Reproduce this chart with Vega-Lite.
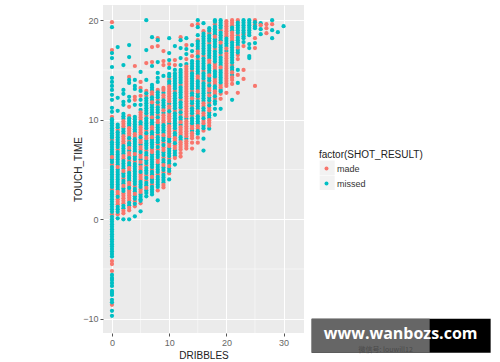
{"$schema":"https://vega.github.io/schema/vega-lite/v6.json","width":201,"height":328,"autosize":{"type":"none"},"padding":{"left":103,"top":5,"right":196,"bottom":29},"background":"white","view":{"fill":"#EBEBEB","stroke":null},"config":{"font":"Liberation Sans"},
"encoding":{"x":{"field":"x","type":"quantitative","title":"DRIBBLES","scale":{"domain":[-1.57,33.57],"nice":false,"zero":false},"axis":{"values":[0,10,20,30],"format":"d","grid":true,"gridColor":"white","gridWidth":1,"domain":false,"tickColor":"#555555","tickSize":3,"labelColor":"#666666","labelFontSize":9,"labelPadding":2,"titleColor":"#222222","titleFontSize":10,"titleFontWeight":"normal","titlePadding":3}},"y":{"field":"y","type":"quantitative","title":"TOUCH_TIME","scale":{"domain":[-11.43,21.53],"nice":false,"zero":false},"axis":{"values":[-10,0,10,20],"format":"d","grid":true,"gridColor":"white","gridWidth":1,"domain":false,"tickColor":"#555555","tickSize":3,"labelColor":"#666666","labelFontSize":9,"labelPadding":2,"titleColor":"#222222","titleFontSize":10,"titleFontWeight":"normal","titlePadding":-1}}},
"layer":[
{"data":{"values":[{"x":5},{"x":15},{"x":25}]},"mark":{"type":"rule","color":"white","strokeWidth":0.5},"encoding":{"y":null}},
{"data":{"values":[{"y":-5},{"y":5},{"y":15}]},"mark":{"type":"rule","color":"white","strokeWidth":0.5},"encoding":{"x":null}},
{"data":{"values":[{"x":36.31,"x2":38.93,"y":5.9,"y2":4.44},{"x":36.31,"x2":38.93,"y":4.39,"y2":2.94}]},"mark":{"type":"rect","color":"#F2F2F2"},"encoding":{"x2":{"field":"x2"},"y2":{"field":"y2"}}},
{"data":{"values":[
{"x":0,"y":19.8,"r":"made"},{"x":0,"y":19.3,"r":"missed"},{"x":0,"y":17,"r":"made"},{"x":0,"y":16.7,"r":"missed"},{"x":0,"y":16.2,"r":"missed"},{"x":0,"y":15.3,"r":"missed"},{"x":0,"y":14.2,"r":"missed"},{"x":0,"y":13.8,"r":"missed"},{"x":0,"y":13.4,"r":"missed"},{"x":0,"y":13,"r":"missed"},{"x":0,"y":12.5,"r":"missed"},{"x":0,"y":12,"r":"missed"},{"x":0,"y":11.2,"r":"missed"},{"x":0,"y":10.8,"r":"missed"},{"x":0,"y":10.3,"r":"made"},{"x":0,"y":9.9,"r":"missed"},{"x":0,"y":9.4,"r":"missed"},{"x":0,"y":8.9,"r":"missed"},{"x":0,"y":8.4,"r":"missed"},{"x":0,"y":8,"r":"made"},{"x":0,"y":7.5,"r":"missed"},{"x":0,"y":7,"r":"missed"},{"x":0,"y":6.5,"r":"missed"},{"x":0,"y":6,"r":"missed"},{"x":0,"y":5.5,"r":"made"},{"x":0,"y":5,"r":"missed"},{"x":0,"y":4.5,"r":"missed"},{"x":0,"y":4,"r":"missed"},{"x":0,"y":3.5,"r":"missed"},{"x":0,"y":3,"r":"made"},{"x":0,"y":2.5,"r":"missed"},{"x":0,"y":2,"r":"missed"},{"x":0,"y":1.5,"r":"missed"},{"x":0,"y":1,"r":"missed"},{"x":0,"y":0.5,"r":"made"},{"x":0,"y":0,"r":"missed"},{"x":0,"y":-0.5,"r":"missed"},{"x":0,"y":-1,"r":"missed"},{"x":0,"y":-1.5,"r":"missed"},{"x":0,"y":-2,"r":"missed"},{"x":0,"y":-2.5,"r":"missed"},{"x":0,"y":-3,"r":"missed"},{"x":0,"y":-3.5,"r":"missed"},{"x":0,"y":-4.2,"r":"made"},{"x":0,"y":-4.5,"r":"made"},{"x":0,"y":-5.2,"r":"made"},{"x":0,"y":-5.6,"r":"missed"},{"x":0,"y":-6.1,"r":"missed"},{"x":0,"y":-6.7,"r":"missed"},{"x":0,"y":-7.2,"r":"missed"},{"x":0,"y":-7.6,"r":"missed"},{"x":0,"y":-8.1,"r":"missed"},{"x":0,"y":-8.6,"r":"made"},{"x":0,"y":-9.2,"r":"missed"},{"x":0,"y":-9.7,"r":"missed"},
{"x":1,"y":17.3,"r":"missed"},{"x":1,"y":12.2,"r":"missed"},{"x":1,"y":10.9,"r":"missed"},{"x":1,"y":9.5,"r":"missed"},{"x":1,"y":9,"r":"made"},{"x":1,"y":8.5,"r":"missed"},{"x":1,"y":8,"r":"missed"},{"x":1,"y":7.5,"r":"missed"},{"x":1,"y":7,"r":"made"},{"x":1,"y":6.5,"r":"missed"},{"x":1,"y":6,"r":"missed"},{"x":1,"y":5.5,"r":"missed"},{"x":1,"y":5,"r":"missed"},{"x":1,"y":4.5,"r":"missed"},{"x":1,"y":4,"r":"missed"},{"x":1,"y":3.5,"r":"missed"},{"x":1,"y":3,"r":"missed"},{"x":1,"y":2.5,"r":"made"},{"x":1,"y":2,"r":"made"},{"x":1,"y":1.5,"r":"made"},{"x":1,"y":1,"r":"missed"},{"x":1,"y":0.5,"r":"made"},{"x":1,"y":0.1,"r":"missed"},
{"x":2,"y":15.5,"r":"missed"},{"x":2,"y":13,"r":"missed"},{"x":2,"y":12.6,"r":"missed"},{"x":2,"y":11.8,"r":"missed"},{"x":2,"y":11.5,"r":"missed"},{"x":2,"y":10.6,"r":"missed"},{"x":2,"y":10.1,"r":"missed"},{"x":2,"y":9.6,"r":"made"},{"x":2,"y":9.1,"r":"missed"},{"x":2,"y":8.6,"r":"missed"},{"x":2,"y":8.1,"r":"made"},{"x":2,"y":7.6,"r":"made"},{"x":2,"y":7.1,"r":"missed"},{"x":2,"y":6.6,"r":"missed"},{"x":2,"y":6.1,"r":"made"},{"x":2,"y":5.6,"r":"missed"},{"x":2,"y":5.1,"r":"missed"},{"x":2,"y":4.6,"r":"missed"},{"x":2,"y":4.1,"r":"made"},{"x":2,"y":3.6,"r":"missed"},{"x":2,"y":3.1,"r":"missed"},{"x":2,"y":2.6,"r":"made"},{"x":2,"y":2.1,"r":"made"},{"x":2,"y":1.6,"r":"made"},{"x":2,"y":1.1,"r":"missed"},{"x":2,"y":0.6,"r":"made"},{"x":2,"y":0,"r":"missed"},
{"x":3,"y":17.5,"r":"missed"},{"x":3,"y":16.3,"r":"missed"},{"x":3,"y":14.3,"r":"made"},{"x":3,"y":14,"r":"missed"},{"x":3,"y":13.7,"r":"missed"},{"x":3,"y":12.3,"r":"missed"},{"x":3,"y":11.9,"r":"missed"},{"x":3,"y":11.3,"r":"made"},{"x":3,"y":10.4,"r":"made"},{"x":3,"y":9.9,"r":"missed"},{"x":3,"y":9.4,"r":"missed"},{"x":3,"y":8.9,"r":"made"},{"x":3,"y":8.4,"r":"made"},{"x":3,"y":7.9,"r":"made"},{"x":3,"y":7.4,"r":"missed"},{"x":3,"y":6.9,"r":"missed"},{"x":3,"y":6.4,"r":"made"},{"x":3,"y":5.9,"r":"made"},{"x":3,"y":5.4,"r":"missed"},{"x":3,"y":4.9,"r":"made"},{"x":3,"y":4.4,"r":"missed"},{"x":3,"y":3.9,"r":"missed"},{"x":3,"y":3.4,"r":"made"},{"x":3,"y":2.9,"r":"made"},{"x":3,"y":2.4,"r":"made"},{"x":3,"y":1.9,"r":"made"},{"x":3,"y":1.4,"r":"missed"},{"x":3,"y":0.9,"r":"made"},{"x":3,"y":0,"r":"missed"},
{"x":4,"y":15.4,"r":"made"},{"x":4,"y":14,"r":"missed"},{"x":4,"y":13.4,"r":"missed"},{"x":4,"y":13.1,"r":"missed"},{"x":4,"y":12.3,"r":"made"},{"x":4,"y":12,"r":"made"},{"x":4,"y":11.5,"r":"missed"},{"x":4,"y":10.3,"r":"missed"},{"x":4,"y":9.8,"r":"missed"},{"x":4,"y":9.3,"r":"missed"},{"x":4,"y":8.8,"r":"missed"},{"x":4,"y":8.3,"r":"made"},{"x":4,"y":7.8,"r":"missed"},{"x":4,"y":7.3,"r":"missed"},{"x":4,"y":6.8,"r":"missed"},{"x":4,"y":6.3,"r":"missed"},{"x":4,"y":5.8,"r":"made"},{"x":4,"y":5.3,"r":"missed"},{"x":4,"y":4.8,"r":"missed"},{"x":4,"y":4.3,"r":"missed"},{"x":4,"y":3.8,"r":"missed"},{"x":4,"y":3.3,"r":"made"},{"x":4,"y":2.8,"r":"missed"},{"x":4,"y":2.3,"r":"missed"},{"x":4,"y":1.8,"r":"made"},{"x":4,"y":1.3,"r":"made"},{"x":4,"y":0.3,"r":"missed"},
{"x":5,"y":14.8,"r":"missed"},{"x":5,"y":13.8,"r":"made"},{"x":5,"y":13.2,"r":"made"},{"x":5,"y":12.9,"r":"missed"},{"x":5,"y":12.4,"r":"made"},{"x":5,"y":12,"r":"missed"},{"x":5,"y":11.5,"r":"missed"},{"x":5,"y":11,"r":"missed"},{"x":5,"y":10.5,"r":"made"},{"x":5,"y":10,"r":"made"},{"x":5,"y":9.5,"r":"missed"},{"x":5,"y":9,"r":"made"},{"x":5,"y":8.5,"r":"made"},{"x":5,"y":8,"r":"made"},{"x":5,"y":7.5,"r":"missed"},{"x":5,"y":7,"r":"made"},{"x":5,"y":6.5,"r":"made"},{"x":5,"y":6,"r":"missed"},{"x":5,"y":5.5,"r":"missed"},{"x":5,"y":5,"r":"made"},{"x":5,"y":4.5,"r":"made"},{"x":5,"y":4,"r":"made"},{"x":5,"y":3.5,"r":"missed"},{"x":5,"y":3,"r":"made"},{"x":5,"y":2.5,"r":"missed"},{"x":5,"y":2,"r":"missed"},{"x":5,"y":1.6,"r":"made"},{"x":5,"y":0.8,"r":"missed"},
{"x":6,"y":20,"r":"missed"},{"x":6,"y":17,"r":"missed"},{"x":6,"y":15.7,"r":"made"},{"x":6,"y":14,"r":"missed"},{"x":6,"y":12.9,"r":"made"},{"x":6,"y":12.4,"r":"made"},{"x":6,"y":11.9,"r":"missed"},{"x":6,"y":11.4,"r":"missed"},{"x":6,"y":10.9,"r":"missed"},{"x":6,"y":10.4,"r":"made"},{"x":6,"y":9.9,"r":"missed"},{"x":6,"y":9.4,"r":"missed"},{"x":6,"y":8.9,"r":"made"},{"x":6,"y":8.4,"r":"made"},{"x":6,"y":7.9,"r":"missed"},{"x":6,"y":7.4,"r":"missed"},{"x":6,"y":6.9,"r":"made"},{"x":6,"y":6.4,"r":"missed"},{"x":6,"y":5.9,"r":"missed"},{"x":6,"y":5.4,"r":"made"},{"x":6,"y":4.9,"r":"missed"},{"x":6,"y":4.4,"r":"made"},{"x":6,"y":3.9,"r":"made"},{"x":6,"y":3.4,"r":"missed"},{"x":6,"y":2.9,"r":"missed"},{"x":6,"y":2.3,"r":"missed"},
{"x":7,"y":18.3,"r":"missed"},{"x":7,"y":17.3,"r":"made"},{"x":7,"y":15.8,"r":"made"},{"x":7,"y":15.4,"r":"missed"},{"x":7,"y":13.5,"r":"missed"},{"x":7,"y":13,"r":"missed"},{"x":7,"y":12.5,"r":"made"},{"x":7,"y":12,"r":"missed"},{"x":7,"y":11.5,"r":"missed"},{"x":7,"y":11,"r":"missed"},{"x":7,"y":10.5,"r":"missed"},{"x":7,"y":10,"r":"missed"},{"x":7,"y":9.5,"r":"missed"},{"x":7,"y":9,"r":"made"},{"x":7,"y":8.5,"r":"missed"},{"x":7,"y":8,"r":"missed"},{"x":7,"y":7.5,"r":"missed"},{"x":7,"y":7,"r":"made"},{"x":7,"y":6.5,"r":"missed"},{"x":7,"y":6,"r":"missed"},{"x":7,"y":5.5,"r":"missed"},{"x":7,"y":5,"r":"made"},{"x":7,"y":4.5,"r":"missed"},{"x":7,"y":4,"r":"missed"},{"x":7,"y":3.5,"r":"made"},{"x":7,"y":3,"r":"missed"},{"x":7,"y":2.5,"r":"missed"},
{"x":8,"y":18.2,"r":"made"},{"x":8,"y":18,"r":"missed"},{"x":8,"y":17.4,"r":"made"},{"x":8,"y":15.8,"r":"missed"},{"x":8,"y":14.7,"r":"missed"},{"x":8,"y":14.2,"r":"missed"},{"x":8,"y":13.8,"r":"missed"},{"x":8,"y":13,"r":"made"},{"x":8,"y":12.5,"r":"missed"},{"x":8,"y":12,"r":"made"},{"x":8,"y":11.5,"r":"made"},{"x":8,"y":11,"r":"missed"},{"x":8,"y":10.5,"r":"made"},{"x":8,"y":10,"r":"made"},{"x":8,"y":9.5,"r":"missed"},{"x":8,"y":9,"r":"missed"},{"x":8,"y":8.5,"r":"made"},{"x":8,"y":8,"r":"missed"},{"x":8,"y":7.5,"r":"made"},{"x":8,"y":7,"r":"made"},{"x":8,"y":6.5,"r":"missed"},{"x":8,"y":6,"r":"made"},{"x":8,"y":5.5,"r":"missed"},{"x":8,"y":5,"r":"missed"},{"x":8,"y":4.5,"r":"made"},{"x":8,"y":4,"r":"missed"},{"x":8,"y":3.5,"r":"missed"},{"x":8,"y":2.9,"r":"made"},{"x":8,"y":1.9,"r":"missed"},
{"x":9,"y":16.9,"r":"made"},{"x":9,"y":15.9,"r":"made"},{"x":9,"y":15.5,"r":"made"},{"x":9,"y":14.4,"r":"missed"},{"x":9,"y":13.2,"r":"made"},{"x":9,"y":12.7,"r":"missed"},{"x":9,"y":12.2,"r":"made"},{"x":9,"y":11.7,"r":"missed"},{"x":9,"y":11.2,"r":"missed"},{"x":9,"y":10.7,"r":"missed"},{"x":9,"y":10.2,"r":"made"},{"x":9,"y":9.7,"r":"made"},{"x":9,"y":9.2,"r":"missed"},{"x":9,"y":8.7,"r":"missed"},{"x":9,"y":8.2,"r":"missed"},{"x":9,"y":7.7,"r":"made"},{"x":9,"y":7.2,"r":"made"},{"x":9,"y":6.7,"r":"missed"},{"x":9,"y":6.2,"r":"made"},{"x":9,"y":5.7,"r":"missed"},{"x":9,"y":5.2,"r":"missed"},{"x":9,"y":4.7,"r":"made"},{"x":9,"y":4.2,"r":"missed"},{"x":9,"y":3.7,"r":"missed"},{"x":9,"y":3.2,"r":"made"},
{"x":10,"y":18.2,"r":"missed"},{"x":10,"y":16.7,"r":"missed"},{"x":10,"y":16,"r":"missed"},{"x":10,"y":15.6,"r":"made"},{"x":10,"y":15.2,"r":"missed"},{"x":10,"y":14.6,"r":"missed"},{"x":10,"y":14.1,"r":"made"},{"x":10,"y":13.6,"r":"missed"},{"x":10,"y":13.1,"r":"made"},{"x":10,"y":12.6,"r":"made"},{"x":10,"y":12.1,"r":"made"},{"x":10,"y":11.6,"r":"missed"},{"x":10,"y":11.1,"r":"made"},{"x":10,"y":10.6,"r":"made"},{"x":10,"y":10.1,"r":"made"},{"x":10,"y":9.6,"r":"missed"},{"x":10,"y":9.1,"r":"made"},{"x":10,"y":8.6,"r":"made"},{"x":10,"y":8.1,"r":"missed"},{"x":10,"y":7.6,"r":"made"},{"x":10,"y":7.1,"r":"missed"},{"x":10,"y":6.6,"r":"missed"},{"x":10,"y":6.1,"r":"made"},{"x":10,"y":5.6,"r":"missed"},{"x":10,"y":5.1,"r":"missed"},{"x":10,"y":4.6,"r":"made"},{"x":10,"y":4,"r":"missed"},
{"x":11,"y":17.4,"r":"missed"},{"x":11,"y":16,"r":"made"},{"x":11,"y":15.5,"r":"made"},{"x":11,"y":15,"r":"missed"},{"x":11,"y":14.4,"r":"missed"},{"x":11,"y":13.9,"r":"missed"},{"x":11,"y":13.4,"r":"missed"},{"x":11,"y":12.9,"r":"made"},{"x":11,"y":12.4,"r":"missed"},{"x":11,"y":11.9,"r":"missed"},{"x":11,"y":11.4,"r":"missed"},{"x":11,"y":10.9,"r":"made"},{"x":11,"y":10.4,"r":"missed"},{"x":11,"y":9.9,"r":"missed"},{"x":11,"y":9.4,"r":"missed"},{"x":11,"y":8.9,"r":"made"},{"x":11,"y":8.4,"r":"missed"},{"x":11,"y":7.9,"r":"made"},{"x":11,"y":7.4,"r":"made"},{"x":11,"y":6.9,"r":"missed"},{"x":11,"y":6.4,"r":"missed"},{"x":11,"y":5.5,"r":"missed"},
{"x":12,"y":18.3,"r":"made"},{"x":12,"y":18,"r":"missed"},{"x":12,"y":17.2,"r":"missed"},{"x":12,"y":16.2,"r":"missed"},{"x":12,"y":15.5,"r":"missed"},{"x":12,"y":15,"r":"missed"},{"x":12,"y":14.5,"r":"missed"},{"x":12,"y":14,"r":"missed"},{"x":12,"y":13.5,"r":"made"},{"x":12,"y":13,"r":"missed"},{"x":12,"y":12.5,"r":"missed"},{"x":12,"y":12,"r":"made"},{"x":12,"y":11.5,"r":"missed"},{"x":12,"y":11,"r":"made"},{"x":12,"y":10.5,"r":"made"},{"x":12,"y":10,"r":"missed"},{"x":12,"y":9.5,"r":"missed"},{"x":12,"y":9,"r":"made"},{"x":12,"y":8.5,"r":"made"},{"x":12,"y":8,"r":"missed"},{"x":12,"y":7.5,"r":"made"},{"x":12,"y":7,"r":"made"},{"x":12,"y":6.3,"r":"made"},
{"x":13,"y":18.2,"r":"missed"},{"x":13,"y":17.5,"r":"made"},{"x":13,"y":17.1,"r":"missed"},{"x":13,"y":16.6,"r":"missed"},{"x":13,"y":16.1,"r":"made"},{"x":13,"y":15.6,"r":"missed"},{"x":13,"y":15.1,"r":"made"},{"x":13,"y":14.6,"r":"made"},{"x":13,"y":14.1,"r":"made"},{"x":13,"y":13.6,"r":"made"},{"x":13,"y":13.1,"r":"made"},{"x":13,"y":12.6,"r":"made"},{"x":13,"y":12.1,"r":"made"},{"x":13,"y":11.6,"r":"made"},{"x":13,"y":11.1,"r":"made"},{"x":13,"y":10.6,"r":"made"},{"x":13,"y":10.1,"r":"missed"},{"x":13,"y":9.6,"r":"made"},{"x":13,"y":9.1,"r":"made"},{"x":13,"y":8.6,"r":"made"},{"x":13,"y":8.1,"r":"missed"},{"x":13,"y":7.6,"r":"made"},{"x":13,"y":7.1,"r":"made"},
{"x":14,"y":19.5,"r":"made"},{"x":14,"y":17.5,"r":"missed"},{"x":14,"y":16.9,"r":"missed"},{"x":14,"y":16.4,"r":"made"},{"x":14,"y":15.9,"r":"missed"},{"x":14,"y":15.4,"r":"missed"},{"x":14,"y":14.9,"r":"made"},{"x":14,"y":14.4,"r":"missed"},{"x":14,"y":13.9,"r":"missed"},{"x":14,"y":13.4,"r":"missed"},{"x":14,"y":12.9,"r":"made"},{"x":14,"y":12.4,"r":"missed"},{"x":14,"y":11.9,"r":"missed"},{"x":14,"y":11.4,"r":"made"},{"x":14,"y":10.9,"r":"missed"},{"x":14,"y":10.4,"r":"made"},{"x":14,"y":9.9,"r":"missed"},{"x":14,"y":9.4,"r":"made"},{"x":14,"y":8.9,"r":"missed"},{"x":14,"y":8.4,"r":"made"},{"x":14,"y":7.7,"r":"made"},{"x":14,"y":7.1,"r":"made"},
{"x":15,"y":20,"r":"missed"},{"x":15,"y":19.6,"r":"made"},{"x":15,"y":19.3,"r":"missed"},{"x":15,"y":18.5,"r":"missed"},{"x":15,"y":18,"r":"made"},{"x":15,"y":17.6,"r":"missed"},{"x":15,"y":17.1,"r":"missed"},{"x":15,"y":16.6,"r":"made"},{"x":15,"y":16.1,"r":"made"},{"x":15,"y":15.6,"r":"missed"},{"x":15,"y":15.1,"r":"missed"},{"x":15,"y":14.6,"r":"missed"},{"x":15,"y":14.1,"r":"made"},{"x":15,"y":13.6,"r":"missed"},{"x":15,"y":13.1,"r":"missed"},{"x":15,"y":12.6,"r":"missed"},{"x":15,"y":12.1,"r":"made"},{"x":15,"y":11.6,"r":"missed"},{"x":15,"y":11.1,"r":"missed"},{"x":15,"y":10.6,"r":"made"},{"x":15,"y":10.1,"r":"missed"},{"x":15,"y":9.6,"r":"missed"},{"x":15,"y":9.1,"r":"made"},{"x":15,"y":8.6,"r":"missed"},{"x":15,"y":7.7,"r":"made"},
{"x":16,"y":19.7,"r":"missed"},{"x":16,"y":18.9,"r":"made"},{"x":16,"y":18.4,"r":"missed"},{"x":16,"y":17.9,"r":"missed"},{"x":16,"y":17.4,"r":"missed"},{"x":16,"y":16.9,"r":"missed"},{"x":16,"y":16.4,"r":"made"},{"x":16,"y":15.9,"r":"missed"},{"x":16,"y":15.4,"r":"missed"},{"x":16,"y":14.9,"r":"made"},{"x":16,"y":14.4,"r":"missed"},{"x":16,"y":13.9,"r":"made"},{"x":16,"y":13.4,"r":"missed"},{"x":16,"y":12.9,"r":"missed"},{"x":16,"y":12.4,"r":"missed"},{"x":16,"y":11.9,"r":"missed"},{"x":16,"y":11.4,"r":"made"},{"x":16,"y":10.9,"r":"missed"},{"x":16,"y":10.4,"r":"made"},{"x":16,"y":9.9,"r":"made"},{"x":16,"y":9.4,"r":"missed"},{"x":16,"y":8.9,"r":"made"},{"x":16,"y":8.1,"r":"missed"},{"x":16,"y":6.9,"r":"missed"},
{"x":17,"y":19.2,"r":"missed"},{"x":17,"y":18.7,"r":"made"},{"x":17,"y":18.2,"r":"missed"},{"x":17,"y":17.7,"r":"made"},{"x":17,"y":17.2,"r":"missed"},{"x":17,"y":16.7,"r":"missed"},{"x":17,"y":16.2,"r":"missed"},{"x":17,"y":15.7,"r":"made"},{"x":17,"y":15.2,"r":"missed"},{"x":17,"y":14.7,"r":"missed"},{"x":17,"y":14.2,"r":"missed"},{"x":17,"y":13.7,"r":"made"},{"x":17,"y":13.2,"r":"made"},{"x":17,"y":12.7,"r":"missed"},{"x":17,"y":12.2,"r":"missed"},{"x":17,"y":11.7,"r":"made"},{"x":17,"y":11.2,"r":"made"},{"x":17,"y":10.7,"r":"missed"},{"x":17,"y":10.2,"r":"missed"},{"x":17,"y":9.7,"r":"made"},{"x":17,"y":9.1,"r":"missed"},
{"x":18,"y":20,"r":"missed"},{"x":18,"y":19.6,"r":"made"},{"x":18,"y":19.1,"r":"missed"},{"x":18,"y":18.6,"r":"missed"},{"x":18,"y":18.1,"r":"missed"},{"x":18,"y":17.6,"r":"missed"},{"x":18,"y":17.1,"r":"made"},{"x":18,"y":16.6,"r":"missed"},{"x":18,"y":16.1,"r":"missed"},{"x":18,"y":15.6,"r":"made"},{"x":18,"y":15.1,"r":"made"},{"x":18,"y":14.6,"r":"missed"},{"x":18,"y":14.1,"r":"made"},{"x":18,"y":13.6,"r":"made"},{"x":18,"y":13.1,"r":"missed"},{"x":18,"y":12.6,"r":"made"},{"x":18,"y":12.1,"r":"made"},{"x":18,"y":11.6,"r":"missed"},{"x":18,"y":11.1,"r":"missed"},{"x":18,"y":10.5,"r":"missed"},
{"x":19,"y":20,"r":"missed"},{"x":19,"y":19.5,"r":"missed"},{"x":19,"y":19,"r":"made"},{"x":19,"y":18.5,"r":"missed"},{"x":19,"y":18,"r":"missed"},{"x":19,"y":17.5,"r":"missed"},{"x":19,"y":17,"r":"missed"},{"x":19,"y":16.5,"r":"made"},{"x":19,"y":16,"r":"missed"},{"x":19,"y":15.5,"r":"missed"},{"x":19,"y":15,"r":"missed"},{"x":19,"y":14.5,"r":"missed"},{"x":19,"y":14,"r":"missed"},{"x":19,"y":13.5,"r":"made"},{"x":19,"y":13,"r":"missed"},{"x":19,"y":12.6,"r":"made"},{"x":19,"y":12.1,"r":"made"},{"x":19,"y":11.1,"r":"missed"},
{"x":20,"y":19.9,"r":"made"},{"x":20,"y":19.4,"r":"made"},{"x":20,"y":18.9,"r":"made"},{"x":20,"y":18.4,"r":"made"},{"x":20,"y":17.9,"r":"missed"},{"x":20,"y":17.4,"r":"missed"},{"x":20,"y":16.9,"r":"missed"},{"x":20,"y":16.4,"r":"made"},{"x":20,"y":15.9,"r":"made"},{"x":20,"y":15.4,"r":"made"},{"x":20,"y":14.9,"r":"made"},{"x":20,"y":14.4,"r":"made"},{"x":20,"y":13.9,"r":"made"},{"x":20,"y":13.4,"r":"made"},{"x":20,"y":12.7,"r":"made"},
{"x":21,"y":20,"r":"made"},{"x":21,"y":19.5,"r":"made"},{"x":21,"y":19,"r":"missed"},{"x":21,"y":18.5,"r":"made"},{"x":21,"y":18,"r":"made"},{"x":21,"y":17.5,"r":"missed"},{"x":21,"y":17,"r":"missed"},{"x":21,"y":16.5,"r":"missed"},{"x":21,"y":16,"r":"missed"},{"x":21,"y":15.5,"r":"made"},{"x":21,"y":15,"r":"missed"},{"x":21,"y":14.5,"r":"missed"},{"x":21,"y":14,"r":"made"},{"x":21,"y":13.6,"r":"made"},{"x":21,"y":12,"r":"missed"},
{"x":22,"y":20,"r":"made"},{"x":22,"y":19.5,"r":"missed"},{"x":22,"y":19,"r":"missed"},{"x":22,"y":18.5,"r":"made"},{"x":22,"y":18,"r":"missed"},{"x":22,"y":17.5,"r":"missed"},{"x":22,"y":17,"r":"missed"},{"x":22,"y":16.5,"r":"made"},{"x":22,"y":16.1,"r":"made"},{"x":22,"y":15,"r":"missed"},{"x":22,"y":14.5,"r":"made"},{"x":22,"y":13.7,"r":"missed"},{"x":22,"y":12.7,"r":"made"},
{"x":23,"y":20,"r":"missed"},{"x":23,"y":19.5,"r":"missed"},{"x":23,"y":19,"r":"missed"},{"x":23,"y":18.6,"r":"made"},{"x":23,"y":18.2,"r":"missed"},{"x":23,"y":17.8,"r":"missed"},{"x":23,"y":17.4,"r":"made"},{"x":23,"y":15,"r":"made"},{"x":23,"y":14.1,"r":"made"},
{"x":24,"y":20,"r":"missed"},{"x":24,"y":19.5,"r":"missed"},{"x":24,"y":19,"r":"missed"},{"x":24,"y":18.5,"r":"missed"},{"x":24,"y":17.6,"r":"missed"},{"x":24,"y":17.2,"r":"missed"},{"x":24,"y":16.4,"r":"missed"},{"x":24,"y":16.2,"r":"missed"},
{"x":25,"y":20,"r":"made"},{"x":25,"y":19.6,"r":"made"},{"x":25,"y":19.2,"r":"missed"},{"x":25,"y":18.2,"r":"made"},{"x":25,"y":17.7,"r":"missed"},{"x":25,"y":17.2,"r":"made"},{"x":25,"y":13.4,"r":"made"},
{"x":26,"y":19.7,"r":"missed"},{"x":26,"y":19.5,"r":"made"},{"x":26,"y":19.1,"r":"missed"},{"x":26,"y":18.6,"r":"missed"},
{"x":27,"y":19.6,"r":"made"},{"x":27,"y":19.2,"r":"made"},{"x":27,"y":18.7,"r":"made"},
{"x":28,"y":20,"r":"missed"},{"x":28,"y":19.6,"r":"made"},{"x":28,"y":19,"r":"missed"},{"x":28,"y":18.2,"r":"missed"},
{"x":29,"y":18.8,"r":"missed"},{"x":30,"y":19.4,"r":"missed"},
{"x":0,"y":10.05,"r":"missed"},{"x":0,"y":9.65,"r":"missed"},{"x":0,"y":9.15,"r":"missed"},{"x":0,"y":8.65,"r":"missed"},{"x":0,"y":8.2,"r":"missed"},{"x":0,"y":7.75,"r":"missed"},{"x":0,"y":7.25,"r":"missed"},{"x":0,"y":6.75,"r":"missed"},{"x":0,"y":6.25,"r":"made"},{"x":0,"y":5.75,"r":"missed"},{"x":0,"y":5.25,"r":"missed"},{"x":0,"y":4.75,"r":"missed"},{"x":0,"y":4.25,"r":"missed"},{"x":0,"y":3.75,"r":"missed"},{"x":0,"y":3.25,"r":"missed"},{"x":0,"y":2.75,"r":"missed"},{"x":0,"y":2.25,"r":"missed"},{"x":0,"y":1.75,"r":"missed"},{"x":0,"y":1.25,"r":"missed"},{"x":0,"y":0.75,"r":"missed"},{"x":0,"y":0.25,"r":"missed"},{"x":0,"y":-0.25,"r":"missed"},{"x":0,"y":-0.75,"r":"missed"},{"x":0,"y":-1.25,"r":"missed"},{"x":0,"y":-1.75,"r":"missed"},{"x":0,"y":-2.25,"r":"missed"},{"x":0,"y":-2.75,"r":"missed"},{"x":0,"y":-3.25,"r":"missed"},{"x":0,"y":-3.75,"r":"missed"},{"x":0,"y":-5.9,"r":"missed"},{"x":0,"y":-6.4,"r":"missed"},{"x":0,"y":-7.4,"r":"missed"},{"x":0,"y":-8.35,"r":"missed"},
{"x":1,"y":9.25,"r":"missed"},{"x":1,"y":8.75,"r":"missed"},{"x":1,"y":8.25,"r":"missed"},{"x":1,"y":7.75,"r":"missed"},{"x":1,"y":7.25,"r":"missed"},{"x":1,"y":6.75,"r":"missed"},{"x":1,"y":6.25,"r":"missed"},{"x":1,"y":5.75,"r":"missed"},{"x":1,"y":5.25,"r":"made"},{"x":1,"y":4.75,"r":"missed"},{"x":1,"y":4.25,"r":"missed"},{"x":1,"y":3.75,"r":"missed"},{"x":1,"y":3.25,"r":"missed"},{"x":1,"y":2.75,"r":"made"},{"x":1,"y":2.25,"r":"missed"},{"x":1,"y":1.75,"r":"made"},{"x":1,"y":1.25,"r":"missed"},{"x":1,"y":0.75,"r":"missed"},
{"x":2,"y":10.35,"r":"missed"},{"x":2,"y":9.85,"r":"made"},{"x":2,"y":9.35,"r":"made"},{"x":2,"y":8.85,"r":"missed"},{"x":2,"y":8.35,"r":"made"},{"x":2,"y":7.85,"r":"made"},{"x":2,"y":7.35,"r":"missed"},{"x":2,"y":6.85,"r":"missed"},{"x":2,"y":6.35,"r":"made"},{"x":2,"y":5.85,"r":"missed"},{"x":2,"y":5.35,"r":"missed"},{"x":2,"y":4.85,"r":"made"},{"x":2,"y":4.35,"r":"missed"},{"x":2,"y":3.85,"r":"missed"},{"x":2,"y":3.35,"r":"made"},{"x":2,"y":2.85,"r":"missed"},{"x":2,"y":2.35,"r":"made"},{"x":2,"y":1.85,"r":"made"},{"x":2,"y":1.35,"r":"missed"},{"x":2,"y":0.85,"r":"made"},
{"x":3,"y":10.15,"r":"missed"},{"x":3,"y":9.65,"r":"missed"},{"x":3,"y":9.15,"r":"made"},{"x":3,"y":8.65,"r":"made"},{"x":3,"y":8.15,"r":"missed"},{"x":3,"y":7.65,"r":"missed"},{"x":3,"y":7.15,"r":"made"},{"x":3,"y":6.65,"r":"made"},{"x":3,"y":6.15,"r":"missed"},{"x":3,"y":5.65,"r":"missed"},{"x":3,"y":5.15,"r":"made"},{"x":3,"y":4.65,"r":"missed"},{"x":3,"y":4.15,"r":"missed"},{"x":3,"y":3.65,"r":"made"},{"x":3,"y":3.15,"r":"missed"},{"x":3,"y":2.65,"r":"made"},{"x":3,"y":2.15,"r":"made"},{"x":3,"y":1.65,"r":"missed"},{"x":3,"y":1.15,"r":"made"},
{"x":4,"y":10.05,"r":"missed"},{"x":4,"y":9.55,"r":"missed"},{"x":4,"y":9.05,"r":"missed"},{"x":4,"y":8.55,"r":"made"},{"x":4,"y":8.05,"r":"missed"},{"x":4,"y":7.55,"r":"missed"},{"x":4,"y":7.05,"r":"missed"},{"x":4,"y":6.55,"r":"made"},{"x":4,"y":6.05,"r":"missed"},{"x":4,"y":5.55,"r":"missed"},{"x":4,"y":5.05,"r":"missed"},{"x":4,"y":4.55,"r":"missed"},{"x":4,"y":4.05,"r":"missed"},{"x":4,"y":3.55,"r":"missed"},{"x":4,"y":3.05,"r":"missed"},{"x":4,"y":2.55,"r":"made"},{"x":4,"y":2.05,"r":"missed"},{"x":4,"y":1.55,"r":"missed"},
{"x":5,"y":10.75,"r":"made"},{"x":5,"y":10.25,"r":"made"},{"x":5,"y":9.75,"r":"missed"},{"x":5,"y":9.25,"r":"made"},{"x":5,"y":8.75,"r":"made"},{"x":5,"y":8.25,"r":"missed"},{"x":5,"y":7.75,"r":"made"},{"x":5,"y":7.25,"r":"made"},{"x":5,"y":6.75,"r":"missed"},{"x":5,"y":6.25,"r":"made"},{"x":5,"y":5.75,"r":"made"},{"x":5,"y":5.25,"r":"made"},{"x":5,"y":4.75,"r":"missed"},{"x":5,"y":4.25,"r":"made"},{"x":5,"y":3.75,"r":"missed"},{"x":5,"y":3.25,"r":"missed"},{"x":5,"y":2.75,"r":"made"},{"x":5,"y":2.25,"r":"missed"},{"x":5,"y":1.85,"r":"missed"},
{"x":6,"y":12.65,"r":"missed"},{"x":6,"y":12.15,"r":"missed"},{"x":6,"y":11.65,"r":"missed"},{"x":6,"y":11.15,"r":"missed"},{"x":6,"y":10.65,"r":"missed"},{"x":6,"y":10.15,"r":"missed"},{"x":6,"y":9.65,"r":"missed"},{"x":6,"y":9.15,"r":"missed"},{"x":6,"y":8.65,"r":"missed"},{"x":6,"y":8.15,"r":"made"},{"x":6,"y":7.65,"r":"missed"},{"x":6,"y":7.15,"r":"missed"},{"x":6,"y":6.65,"r":"missed"},{"x":6,"y":6.15,"r":"made"},{"x":6,"y":5.65,"r":"missed"},{"x":6,"y":5.15,"r":"missed"},{"x":6,"y":4.65,"r":"missed"},{"x":6,"y":4.15,"r":"missed"},{"x":6,"y":3.65,"r":"missed"},{"x":6,"y":3.15,"r":"made"},{"x":6,"y":2.65,"r":"missed"},
{"x":7,"y":13.25,"r":"missed"},{"x":7,"y":12.75,"r":"made"},{"x":7,"y":12.25,"r":"missed"},{"x":7,"y":11.75,"r":"made"},{"x":7,"y":11.25,"r":"missed"},{"x":7,"y":10.75,"r":"missed"},{"x":7,"y":10.25,"r":"made"},{"x":7,"y":9.75,"r":"missed"},{"x":7,"y":9.25,"r":"made"},{"x":7,"y":8.75,"r":"missed"},{"x":7,"y":8.25,"r":"made"},{"x":7,"y":7.75,"r":"missed"},{"x":7,"y":7.25,"r":"missed"},{"x":7,"y":6.75,"r":"made"},{"x":7,"y":6.25,"r":"missed"},{"x":7,"y":5.75,"r":"missed"},{"x":7,"y":5.25,"r":"missed"},{"x":7,"y":4.75,"r":"missed"},{"x":7,"y":4.25,"r":"made"},{"x":7,"y":3.75,"r":"missed"},{"x":7,"y":3.25,"r":"missed"},{"x":7,"y":2.75,"r":"missed"},
{"x":8,"y":12.75,"r":"missed"},{"x":8,"y":12.25,"r":"missed"},{"x":8,"y":11.75,"r":"missed"},{"x":8,"y":11.25,"r":"missed"},{"x":8,"y":10.75,"r":"missed"},{"x":8,"y":10.25,"r":"missed"},{"x":8,"y":9.75,"r":"made"},{"x":8,"y":9.25,"r":"missed"},{"x":8,"y":8.75,"r":"missed"},{"x":8,"y":8.25,"r":"missed"},{"x":8,"y":7.75,"r":"missed"},{"x":8,"y":7.25,"r":"missed"},{"x":8,"y":6.75,"r":"missed"},{"x":8,"y":6.25,"r":"missed"},{"x":8,"y":5.75,"r":"made"},{"x":8,"y":5.25,"r":"missed"},{"x":8,"y":4.75,"r":"missed"},{"x":8,"y":4.25,"r":"missed"},{"x":8,"y":3.75,"r":"missed"},{"x":8,"y":3.25,"r":"missed"},
{"x":9,"y":13,"r":"made"},{"x":9,"y":12.45,"r":"made"},{"x":9,"y":11.95,"r":"missed"},{"x":9,"y":11.45,"r":"missed"},{"x":9,"y":10.95,"r":"made"},{"x":9,"y":10.45,"r":"made"},{"x":9,"y":9.95,"r":"made"},{"x":9,"y":9.45,"r":"missed"},{"x":9,"y":8.95,"r":"missed"},{"x":9,"y":8.45,"r":"made"},{"x":9,"y":7.95,"r":"missed"},{"x":9,"y":7.45,"r":"missed"},{"x":9,"y":6.95,"r":"made"},{"x":9,"y":6.45,"r":"missed"},{"x":9,"y":5.95,"r":"missed"},{"x":9,"y":5.45,"r":"made"},{"x":9,"y":4.95,"r":"missed"},{"x":9,"y":4.45,"r":"missed"},{"x":9,"y":3.95,"r":"missed"},{"x":9,"y":3.45,"r":"made"},
{"x":10,"y":14.35,"r":"missed"},{"x":10,"y":13.85,"r":"missed"},{"x":10,"y":13.35,"r":"made"},{"x":10,"y":12.85,"r":"made"},{"x":10,"y":12.35,"r":"made"},{"x":10,"y":11.85,"r":"made"},{"x":10,"y":11.35,"r":"made"},{"x":10,"y":10.85,"r":"missed"},{"x":10,"y":10.35,"r":"made"},{"x":10,"y":9.85,"r":"made"},{"x":10,"y":9.35,"r":"made"},{"x":10,"y":8.85,"r":"made"},{"x":10,"y":8.35,"r":"made"},{"x":10,"y":7.85,"r":"missed"},{"x":10,"y":7.35,"r":"made"},{"x":10,"y":6.85,"r":"missed"},{"x":10,"y":6.35,"r":"missed"},{"x":10,"y":5.85,"r":"missed"},{"x":10,"y":5.35,"r":"made"},{"x":10,"y":4.85,"r":"missed"},
{"x":11,"y":14.65,"r":"missed"},{"x":11,"y":14.15,"r":"missed"},{"x":11,"y":13.65,"r":"missed"},{"x":11,"y":13.15,"r":"missed"},{"x":11,"y":12.65,"r":"missed"},{"x":11,"y":12.15,"r":"missed"},{"x":11,"y":11.65,"r":"missed"},{"x":11,"y":11.15,"r":"missed"},{"x":11,"y":10.65,"r":"missed"},{"x":11,"y":10.15,"r":"missed"},{"x":11,"y":9.65,"r":"missed"},{"x":11,"y":9.15,"r":"missed"},{"x":11,"y":8.65,"r":"missed"},{"x":11,"y":8.15,"r":"made"},{"x":11,"y":7.65,"r":"missed"},{"x":11,"y":7.15,"r":"made"},{"x":11,"y":6.65,"r":"missed"},{"x":11,"y":6.15,"r":"made"},
{"x":12,"y":14.75,"r":"missed"},{"x":12,"y":14.25,"r":"missed"},{"x":12,"y":13.75,"r":"missed"},{"x":12,"y":13.25,"r":"missed"},{"x":12,"y":12.75,"r":"missed"},{"x":12,"y":12.25,"r":"missed"},{"x":12,"y":11.75,"r":"missed"},{"x":12,"y":11.25,"r":"missed"},{"x":12,"y":10.75,"r":"missed"},{"x":12,"y":10.25,"r":"missed"},{"x":12,"y":9.75,"r":"made"},{"x":12,"y":9.25,"r":"made"},{"x":12,"y":8.75,"r":"made"},{"x":12,"y":8.25,"r":"missed"},{"x":12,"y":7.75,"r":"made"},{"x":12,"y":7.25,"r":"made"},{"x":12,"y":6.65,"r":"made"},
{"x":13,"y":15.35,"r":"made"},{"x":13,"y":14.85,"r":"made"},{"x":13,"y":14.35,"r":"made"},{"x":13,"y":13.85,"r":"made"},{"x":13,"y":13.35,"r":"made"},{"x":13,"y":12.85,"r":"made"},{"x":13,"y":12.35,"r":"made"},{"x":13,"y":11.85,"r":"made"},{"x":13,"y":11.35,"r":"made"},{"x":13,"y":10.85,"r":"made"},{"x":13,"y":10.35,"r":"made"},{"x":13,"y":9.85,"r":"made"},{"x":13,"y":9.35,"r":"made"},{"x":13,"y":8.85,"r":"made"},{"x":13,"y":8.35,"r":"made"},{"x":13,"y":7.85,"r":"made"},{"x":13,"y":7.35,"r":"made"},
{"x":14,"y":15.65,"r":"missed"},{"x":14,"y":15.15,"r":"missed"},{"x":14,"y":14.65,"r":"missed"},{"x":14,"y":14.15,"r":"missed"},{"x":14,"y":13.65,"r":"missed"},{"x":14,"y":13.15,"r":"missed"},{"x":14,"y":12.65,"r":"missed"},{"x":14,"y":12.15,"r":"made"},{"x":14,"y":11.65,"r":"missed"},{"x":14,"y":11.15,"r":"missed"},{"x":14,"y":10.65,"r":"missed"},{"x":14,"y":10.15,"r":"missed"},{"x":14,"y":9.65,"r":"missed"},{"x":14,"y":9.15,"r":"made"},{"x":14,"y":8.65,"r":"made"},{"x":14,"y":8.15,"r":"made"},
{"x":15,"y":17.85,"r":"missed"},{"x":15,"y":17.35,"r":"missed"},{"x":15,"y":16.85,"r":"made"},{"x":15,"y":16.35,"r":"missed"},{"x":15,"y":15.85,"r":"missed"},{"x":15,"y":15.35,"r":"missed"},{"x":15,"y":14.85,"r":"missed"},{"x":15,"y":14.35,"r":"made"},{"x":15,"y":13.85,"r":"missed"},{"x":15,"y":13.35,"r":"missed"},{"x":15,"y":12.85,"r":"made"},{"x":15,"y":12.35,"r":"missed"},{"x":15,"y":11.85,"r":"missed"},{"x":15,"y":11.35,"r":"missed"},{"x":15,"y":10.85,"r":"made"},{"x":15,"y":10.35,"r":"missed"},{"x":15,"y":9.85,"r":"missed"},{"x":15,"y":9.35,"r":"made"},{"x":15,"y":8.85,"r":"missed"},{"x":15,"y":8.2,"r":"made"},
{"x":16,"y":18.65,"r":"missed"},{"x":16,"y":18.15,"r":"missed"},{"x":16,"y":17.65,"r":"missed"},{"x":16,"y":17.15,"r":"missed"},{"x":16,"y":16.65,"r":"missed"},{"x":16,"y":16.15,"r":"missed"},{"x":16,"y":15.65,"r":"missed"},{"x":16,"y":15.15,"r":"missed"},{"x":16,"y":14.65,"r":"missed"},{"x":16,"y":14.15,"r":"missed"},{"x":16,"y":13.65,"r":"missed"},{"x":16,"y":13.15,"r":"missed"},{"x":16,"y":12.65,"r":"missed"},{"x":16,"y":12.15,"r":"missed"},{"x":16,"y":11.65,"r":"made"},{"x":16,"y":11.15,"r":"missed"},{"x":16,"y":10.65,"r":"made"},{"x":16,"y":10.15,"r":"missed"},{"x":16,"y":9.65,"r":"made"},{"x":16,"y":9.15,"r":"missed"},
{"x":17,"y":18.95,"r":"missed"},{"x":17,"y":18.45,"r":"missed"},{"x":17,"y":17.95,"r":"missed"},{"x":17,"y":17.45,"r":"missed"},{"x":17,"y":16.95,"r":"missed"},{"x":17,"y":16.45,"r":"missed"},{"x":17,"y":15.95,"r":"made"},{"x":17,"y":15.45,"r":"missed"},{"x":17,"y":14.95,"r":"missed"},{"x":17,"y":14.45,"r":"made"},{"x":17,"y":13.95,"r":"missed"},{"x":17,"y":13.45,"r":"missed"},{"x":17,"y":12.95,"r":"made"},{"x":17,"y":12.45,"r":"made"},{"x":17,"y":11.95,"r":"missed"},{"x":17,"y":11.45,"r":"missed"},{"x":17,"y":10.95,"r":"made"},{"x":17,"y":10.45,"r":"missed"},{"x":17,"y":9.95,"r":"made"},{"x":17,"y":9.4,"r":"made"},
{"x":18,"y":19.85,"r":"missed"},{"x":18,"y":19.35,"r":"missed"},{"x":18,"y":18.85,"r":"missed"},{"x":18,"y":18.35,"r":"made"},{"x":18,"y":17.85,"r":"missed"},{"x":18,"y":17.35,"r":"missed"},{"x":18,"y":16.85,"r":"missed"},{"x":18,"y":16.35,"r":"missed"},{"x":18,"y":15.85,"r":"missed"},{"x":18,"y":15.35,"r":"made"},{"x":18,"y":14.85,"r":"missed"},{"x":18,"y":14.35,"r":"missed"},{"x":18,"y":13.85,"r":"made"},{"x":18,"y":13.35,"r":"missed"},{"x":18,"y":12.85,"r":"made"},{"x":18,"y":12.35,"r":"missed"},{"x":18,"y":11.85,"r":"missed"},
{"x":19,"y":19.75,"r":"missed"},{"x":19,"y":19.25,"r":"missed"},{"x":19,"y":18.75,"r":"missed"},{"x":19,"y":18.25,"r":"missed"},{"x":19,"y":17.75,"r":"made"},{"x":19,"y":17.25,"r":"missed"},{"x":19,"y":16.75,"r":"missed"},{"x":19,"y":16.25,"r":"missed"},{"x":19,"y":15.75,"r":"missed"},{"x":19,"y":15.25,"r":"made"},{"x":19,"y":14.75,"r":"missed"},{"x":19,"y":14.25,"r":"missed"},{"x":19,"y":13.75,"r":"missed"},{"x":19,"y":13.25,"r":"made"},{"x":19,"y":12.85,"r":"missed"},
{"x":20,"y":19.65,"r":"made"},{"x":20,"y":19.15,"r":"made"},{"x":20,"y":18.65,"r":"made"},{"x":20,"y":18.15,"r":"missed"},{"x":20,"y":17.65,"r":"missed"},{"x":20,"y":17.15,"r":"made"},{"x":20,"y":16.65,"r":"made"},{"x":20,"y":16.15,"r":"made"},{"x":20,"y":15.65,"r":"made"},{"x":20,"y":15.15,"r":"made"},{"x":20,"y":14.65,"r":"made"},{"x":20,"y":14.15,"r":"made"},{"x":20,"y":13.65,"r":"made"},
{"x":21,"y":19.75,"r":"made"},{"x":21,"y":19.25,"r":"missed"},{"x":21,"y":18.75,"r":"made"},{"x":21,"y":18.25,"r":"made"},{"x":21,"y":17.75,"r":"missed"},{"x":21,"y":17.25,"r":"missed"},{"x":21,"y":16.75,"r":"missed"},{"x":21,"y":16.25,"r":"missed"},{"x":21,"y":15.75,"r":"missed"},{"x":21,"y":15.25,"r":"missed"},{"x":21,"y":14.75,"r":"made"},{"x":21,"y":14.25,"r":"made"},
{"x":22,"y":19.75,"r":"missed"},{"x":22,"y":19.25,"r":"missed"},{"x":22,"y":18.75,"r":"missed"},{"x":22,"y":18.25,"r":"missed"},{"x":22,"y":17.75,"r":"missed"},{"x":22,"y":17.25,"r":"made"},{"x":22,"y":16.75,"r":"missed"},
{"x":23,"y":19.75,"r":"missed"},{"x":23,"y":19.25,"r":"missed"},{"x":23,"y":18.75,"r":"missed"},{"x":23,"y":18.4,"r":"missed"},
{"x":24,"y":19.75,"r":"missed"},{"x":24,"y":19.25,"r":"missed"},{"x":24,"y":18.75,"r":"missed"},
{"x":25,"y":19.4,"r":"missed"},{"x":25,"y":19.8,"r":"missed"}
]},"mark":{"type":"point","filled":true,"opacity":1,"size":18},"encoding":{"color":{"field":"r","type":"nominal","scale":{"domain":["made","missed"],"range":["#F8766D","#00BFC4"]},"legend":{"title":"factor(SHOT_RESULT)","orient":"none","legendX":216,"legendY":145,"titleFontSize":10,"titleFontWeight":"normal","titleColor":"#222222","labelFontSize":9,"labelColor":"#333333","symbolSize":16,"symbolStrokeWidth":0,"symbolOffset":3,"titlePadding":4,"rowPadding":5,"labelOffset":6}}}},
{"data":{"values":[{"x":34.91,"x2":66.2,"y":-10,"y2":-13.41}]},"mark":{"type":"rect","color":"#000000","clip":false},"encoding":{"x2":{"field":"x2"},"y2":{"field":"y2"}}},
{"data":{"values":[{"x":34.91,"x2":55.54,"y":-10,"y2":-13.41}]},"mark":{"type":"rect","color":"#666666","clip":false},"encoding":{"x2":{"field":"x2"},"y2":{"field":"y2"}}},
{"data":{"values":[{"x":47.85,"y":-13.15,"t":"微信号: louwill12"}]},"mark":{"type":"text","color":"#4A4A4A","fontSize":7,"font":"Noto Sans CJK SC"},"encoding":{"text":{"field":"t"}}},
{"data":{"values":[{"x":50.47,"y":-11.5,"t":"www.wanbozs.com"}]},"mark":{"type":"text","color":"white","fontSize":16,"fontWeight":"bold","font":"Open Sans"},"encoding":{"text":{"field":"t"}}}
]}
